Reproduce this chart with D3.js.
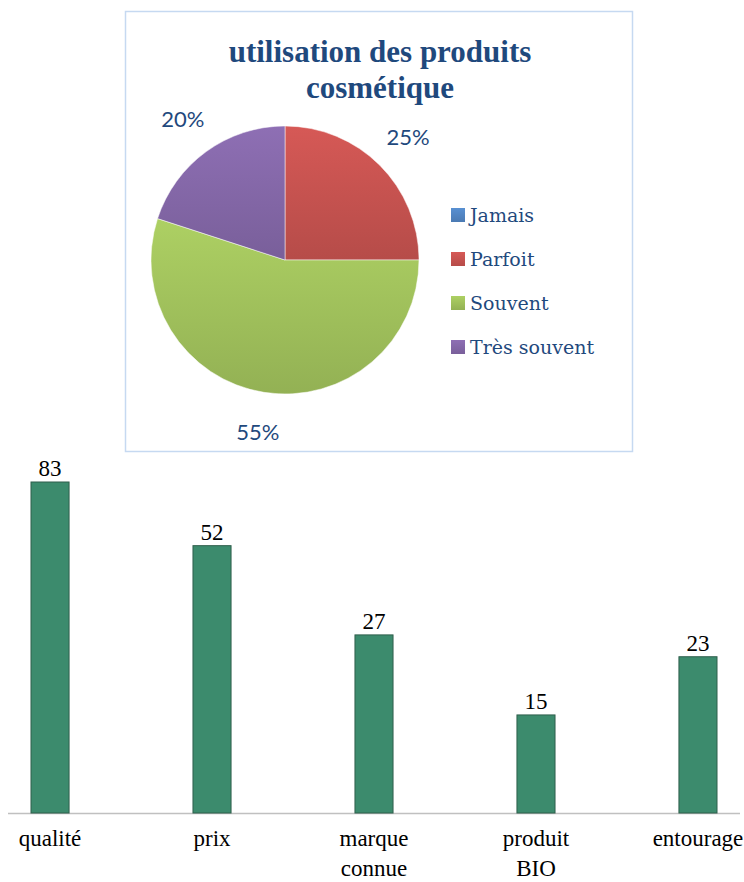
<!DOCTYPE html>
<html>
<head>
<meta charset="utf-8">
<script src="https://cdn.jsdelivr.net/npm/d3@7"></script>
<style>
  body { margin: 0; background: #fff; }
  .serif { font-family: 'Liberation Serif', serif; }
</style>
</head>
<body>
<div id="chart"></div>
<script>
// pie data
const pieTitle = ['utilisation des produits', 'cosmétique'];
const pieCategories = ['Jamais', 'Parfoit', 'Souvent', 'Très souvent'];
const pieValues = [0, 25, 55, 20];
const pieColors = ['#4f81bd', '#c0504d', '#9bbb59', '#8064a2'];

// bar data
const barCategories = ['qualité', 'prix', 'marque connue', 'produit BIO', 'entourage'];
const barValues = [83, 52, 27, 15, 23];

const W = 744, H = 882;
const svg = d3.select('#chart').append('svg').attr('width', W).attr('height', H);
const defs = svg.append('defs');

// gradients like the office style fills
pieColors.forEach((c, i) => {
  const g = defs.append('linearGradient').attr('id', 'g' + i)
    .attr('x1', 0).attr('y1', 0).attr('x2', 0).attr('y2', 1);
  g.append('stop').attr('offset', '0%').attr('stop-color', d3.color(c).brighter(0.3));
  g.append('stop').attr('offset', '100%').attr('stop-color', d3.color(c).darker(0.15));
});

// ---- pie panel ----
svg.append('rect')
  .attr('x', 125.5).attr('y', 11.5).attr('width', 507).attr('height', 440)
  .attr('fill', '#fff').attr('stroke', '#c6d9f1').attr('stroke-width', 1.5);

svg.append('text')
  .attr('class', 'serif')
  .attr('x', 380).attr('y', 62)
  .attr('text-anchor', 'middle')
  .style('font-weight', 'bold').style('font-size', '31px')
  .attr('fill', '#1f497d')
  .selectAll('tspan').data(pieTitle).enter().append('tspan')
  .attr('x', 380).attr('dy', (d, i) => i ? 36 : 0)
  .text(d => d);

const cx = 285, cy = 260, r = 134;
const pie = d3.pie().sort(null).value(d => d)(pieValues);
const arc = d3.arc().innerRadius(0).outerRadius(r);
const gPie = svg.append('g').attr('transform', `translate(${cx},${cy})`);

gPie.selectAll('path').data(pie).enter().append('path')
  .attr('d', arc)
  .attr('fill', (d, i) => `url(#g${i})`)
  .attr('stroke', '#fff').attr('stroke-width', 0.5);

// percentage labels outside the slices
const labelArc = d3.arc().innerRadius(r + 40).outerRadius(r + 40);
gPie.selectAll('text.pct').data(pie.filter(d => d.value > 0)).enter().append('text')
  .attr('class', 'pct')
  .attr('transform', d => {
    const [x, y] = labelArc.centroid(d);
    return `translate(${x},${y})`;
  })
  .attr('text-anchor', 'middle').attr('dy', '0.35em')
  .style('font-family', 'Lato, sans-serif').style('font-size', '22px')
  .attr('fill', '#1f497d')
  .text(d => Math.round(d.value / d3.sum(pieValues) * 100) + '%');

// legend
const legend = svg.append('g').attr('transform', 'translate(451,215)');
const items = legend.selectAll('g').data(pieCategories).enter().append('g')
  .attr('transform', (d, i) => `translate(0,${i * 44})`);
items.append('rect')
  .attr('x', 0).attr('y', -7).attr('width', 14).attr('height', 14)
  .attr('fill', (d, i) => `url(#g${i})`);
items.append('text')
  .attr('x', 19).attr('y', 0).attr('dy', '0.35em')
  .style('font-family', 'DejaVu Serif, serif').style('font-size', '19px')
  .attr('fill', '#1f497d')
  .text(d => d);

// ---- bar chart ----
const base = 813;
const x = d3.scaleBand().domain(barCategories).range([-50, 798]).paddingInner(0.765).paddingOuter(0.5);
const y = d3.scaleLog().domain([7.3, 83]).range([base, 482]);

svg.append('line')
  .attr('x1', 8).attr('x2', 740).attr('y1', base + 0.5).attr('y2', base + 0.5)
  .attr('stroke', '#c0c0c0').attr('stroke-width', 1.5);

const bars = svg.append('g');
bars.selectAll('rect').data(barValues).enter().append('rect')
  .attr('x', (d, i) => x(barCategories[i]))
  .attr('y', d => y(d))
  .attr('width', x.bandwidth())
  .attr('height', d => base - y(d))
  .attr('fill', '#3c8b6d').attr('stroke', '#2f5f4c').attr('stroke-width', 1);

bars.selectAll('text').data(barValues).enter().append('text')
  .attr('class', 'serif')
  .attr('x', (d, i) => x(barCategories[i]) + x.bandwidth() / 2)
  .attr('y', d => y(d) - 6)
  .attr('text-anchor', 'middle')
  .style('font-size', '23px')
  .attr('fill', '#000')
  .text(d => d);

const cats = svg.append('g');
cats.selectAll('text').data(barCategories).enter().append('text')
  .attr('class', 'serif')
  .attr('x', d => x(d) + x.bandwidth() / 2)
  .attr('y', 846)
  .attr('text-anchor', 'middle')
  .style('font-size', '23px')
  .attr('fill', '#000')
  .each(function (d) {
    const words = d.split(' ');
    d3.select(this).selectAll('tspan').data(words).enter().append('tspan')
      .attr('x', x(d) + x.bandwidth() / 2)
      .attr('dy', (w, i) => i ? 30 : 0)
      .text(w => w);
  });
</script>
</body>
</html>
